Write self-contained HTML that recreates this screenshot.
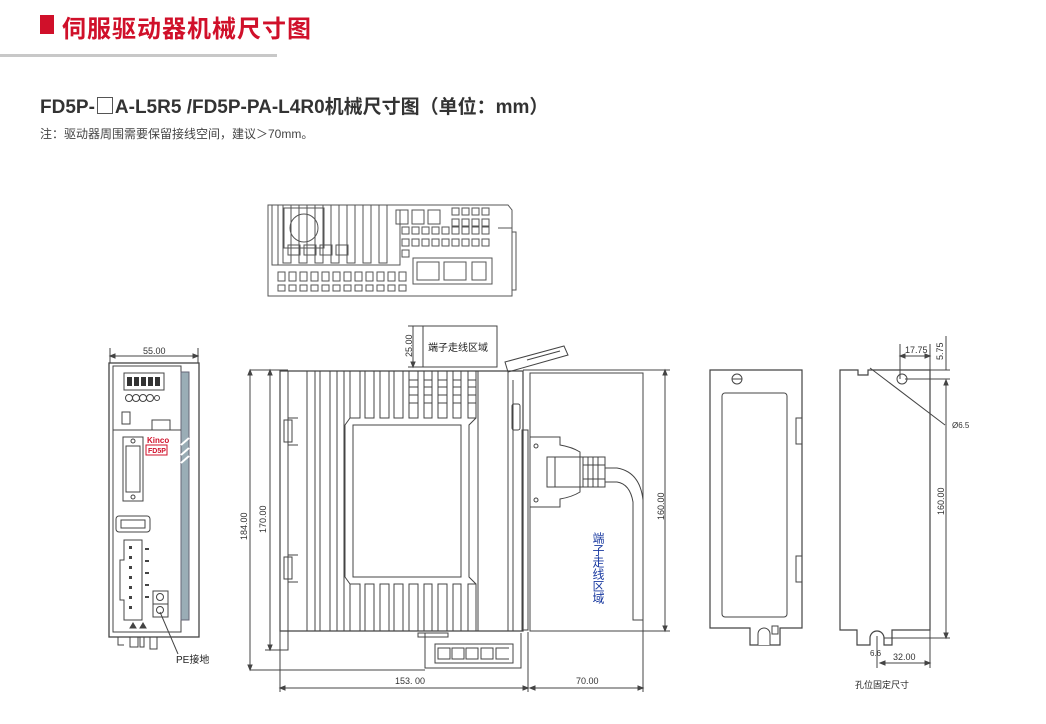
<!DOCTYPE html>
<html><head><meta charset="utf-8"><style>
html,body{margin:0;padding:0;background:#fff;}
body{width:1046px;height:724px;overflow:hidden;position:relative;font-family:"Liberation Sans","Noto Sans CJK SC",sans-serif;}
.t1{position:absolute;left:62px;top:9px;font-size:24px;font-weight:bold;color:#d0102a;letter-spacing:1px;}
.sq{position:absolute;left:40px;top:15px;width:14px;height:19px;background:#d0102a;}
.ln{position:absolute;left:0;top:54px;width:277px;height:3px;background:#c8c8c8;}
.t2{position:absolute;left:40px;top:92px;font-size:19px;color:#333;font-weight:bold;}
.t3{position:absolute;left:40px;top:125px;font-size:12px;color:#444;}
svg{position:absolute;left:0;top:0;}
</style></head><body>
<div class="sq"></div><div class="t1">伺服驱动器机械尺寸图</div><div class="ln"></div>
<div class="t2">FD5P-<span style="display:inline-block;width:14px;height:15px;border:1.5px solid #555;vertical-align:-1px;margin:0 2px"></span>A-L5R5 /FD5P-PA-L4R0机械尺寸图（单位：mm）</div>
<div class="t3">注：驱动器周围需要保留接线空间，建议＞70mm。</div>
<svg width="1046" height="724" viewBox="0 0 1046 724" fill="none" stroke="#444" stroke-width="1" font-family="Liberation Sans, Noto Sans CJK SC, sans-serif">
<!-- TOP VIEW -->
<g stroke="#555">
<path d="M268 205 H508 L512 210 V296 H268 Z"/>
<rect x="272" y="205" width="6" height="60"/>
<rect x="284" y="208" width="40" height="40"/><circle cx="304" cy="228" r="14"/>
<g>
<rect x="283" y="205" width="8" height="58"/><rect x="299" y="205" width="8" height="58"/><rect x="315" y="205" width="8" height="58"/><rect x="331" y="205" width="8" height="58"/><rect x="347" y="205" width="8" height="58"/><rect x="363" y="205" width="8" height="58"/><rect x="379" y="205" width="8" height="58"/>
<rect x="288" y="245" width="12" height="10"/><rect x="304" y="245" width="12" height="10"/><rect x="320" y="245" width="12" height="10"/><rect x="336" y="245" width="12" height="10"/>
</g>
<path d="M272 265 H400 V210"/>
<g>
<rect x="396" y="210" width="12" height="14"/><rect x="412" y="210" width="12" height="14"/><rect x="428" y="210" width="12" height="14"/>
</g>
<g fill="none">
<rect x="452" y="208" width="7" height="7"/><rect x="462" y="208" width="7" height="7"/><rect x="472" y="208" width="7" height="7"/><rect x="482" y="208" width="7" height="7"/>
<rect x="452" y="219" width="7" height="7"/><rect x="462" y="219" width="7" height="7"/><rect x="472" y="219" width="7" height="7"/><rect x="482" y="219" width="7" height="7"/>
<rect x="402" y="227" width="7" height="7"/><rect x="412" y="227" width="7" height="7"/><rect x="422" y="227" width="7" height="7"/><rect x="432" y="227" width="7" height="7"/><rect x="442" y="227" width="7" height="7"/><rect x="452" y="227" width="7" height="7"/><rect x="462" y="227" width="7" height="7"/><rect x="472" y="227" width="7" height="7"/><rect x="482" y="227" width="7" height="7"/>
<rect x="402" y="239" width="7" height="7"/><rect x="412" y="239" width="7" height="7"/><rect x="422" y="239" width="7" height="7"/><rect x="432" y="239" width="7" height="7"/><rect x="442" y="239" width="7" height="7"/><rect x="452" y="239" width="7" height="7"/><rect x="462" y="239" width="7" height="7"/><rect x="472" y="239" width="7" height="7"/><rect x="482" y="239" width="7" height="7"/>
<rect x="402" y="250" width="7" height="7"/>
</g>
<rect x="413" y="258" width="79" height="26"/>
<rect x="417" y="262" width="22" height="18"/><rect x="444" y="262" width="22" height="18"/><rect x="472" y="262" width="14" height="18"/>
<g><rect x="278" y="272" width="7" height="9"/><rect x="289" y="272" width="7" height="9"/><rect x="300" y="272" width="7" height="9"/><rect x="311" y="272" width="7" height="9"/><rect x="322" y="272" width="7" height="9"/><rect x="333" y="272" width="7" height="9"/><rect x="344" y="272" width="7" height="9"/><rect x="355" y="272" width="7" height="9"/><rect x="366" y="272" width="7" height="9"/><rect x="377" y="272" width="7" height="9"/><rect x="388" y="272" width="7" height="9"/><rect x="399" y="272" width="7" height="9"/>
<rect x="278" y="285" width="7" height="6"/><rect x="289" y="285" width="7" height="6"/><rect x="300" y="285" width="7" height="6"/><rect x="311" y="285" width="7" height="6"/><rect x="322" y="285" width="7" height="6"/><rect x="333" y="285" width="7" height="6"/><rect x="344" y="285" width="7" height="6"/><rect x="355" y="285" width="7" height="6"/><rect x="366" y="285" width="7" height="6"/><rect x="377" y="285" width="7" height="6"/><rect x="388" y="285" width="7" height="6"/><rect x="399" y="285" width="7" height="6"/></g>
<path d="M498 228 H512 V232 H516 V290 H512"/>
</g>

<!-- FRONT VIEW -->
<g>
<path d="M110 348 V363 M198 348 V363"/><path d="M110 356 H198" /><path d="M110 356 l5 -2 v4z M198 356 l-5 -2 v4z" fill="#444"/>
<text x="143" y="354" font-size="9" fill="#333" stroke="none">55.00</text>
<rect x="109" y="363" width="90" height="274" stroke-width="1.3"/>
<rect x="113" y="366" width="68" height="266"/>
<rect x="181" y="372" width="8" height="248" fill="#9aadb6" stroke="#667"/>
<path d="M181 445 L189 438 M181 455 L189 448 M181 463 L189 456"  stroke="#fff" stroke-width="2"/>
<rect x="124" y="373" width="40" height="17"/>
<g fill="#333" stroke="none"><rect x="127" y="377" width="5" height="9"/><rect x="134" y="377" width="5" height="9"/><rect x="141" y="377" width="5" height="9"/><rect x="148" y="377" width="5" height="9"/><rect x="155" y="377" width="5" height="9"/></g>
<circle cx="129" cy="398" r="3.5"/><circle cx="136" cy="398" r="3.5"/><circle cx="143" cy="398" r="3.5"/><circle cx="150" cy="398" r="3.5"/><circle cx="157" cy="398" r="2.5"/>
<rect x="122" y="412" width="8" height="12"/><rect x="152" y="420" width="18" height="10"/>
<path d="M113 430 H181"/>
<text x="147" y="443" font-size="8" font-weight="bold" fill="#d0102a" stroke="none">Kinco</text>
<rect x="146" y="445" width="21" height="10" stroke="#d0102a"/>
<text x="148" y="453" font-size="7" font-weight="bold" fill="#d0102a" stroke="none">FD5P</text>
<rect x="123" y="437" width="20" height="64"/><rect x="126" y="446" width="14" height="46"/><circle cx="133" cy="441" r="2"/><circle cx="133" cy="497" r="2"/>
<rect x="116" y="516" width="34" height="16" rx="3"/><rect x="121" y="520" width="24" height="8"/>
<path d="M124 540 h18 v80 h-18 v-20 h-4 v-40 h4z"/>
<g fill="#444" stroke="none"><rect x="129" y="546" width="3" height="3"/><rect x="129" y="556" width="3" height="3"/><rect x="129" y="566" width="3" height="3"/><rect x="129" y="576" width="3" height="3"/><rect x="129" y="586" width="3" height="3"/><rect x="129" y="596" width="3" height="3"/><rect x="129" y="606" width="3" height="3"/>
<rect x="145" y="548" width="4" height="2"/><rect x="145" y="560" width="4" height="2"/><rect x="145" y="572" width="4" height="2"/><rect x="145" y="584" width="4" height="2"/><rect x="145" y="596" width="4" height="2"/></g>
<rect x="153" y="591" width="15" height="13"/><rect x="153" y="604" width="15" height="13"/><circle cx="160" cy="597" r="3.5"/><circle cx="160" cy="610" r="3.5"/>
<path d="M130 628 l3 -5 l3 5z M140 628 l3 -5 l3 5z" fill="#444"/>
<path d="M118 637 v8 h6 M130 637 v10 h8 v-10 M140 637 v10 h4 v-10 M150 637 v12 h7 v-12"/>
<path d="M160 612 L178 654"/>
<text x="176" y="663" font-size="10" fill="#222" stroke="none">PE接地</text>
</g>

<!-- SIDE VIEW -->
<g>
<rect x="423" y="326" width="74" height="41"/>
<text x="428" y="351" font-size="10" fill="#222" stroke="none">端子走线区域</text>
<path d="M408 326 H423 M408 367 H423 M413 326 V367"/>
<path d="M413 367 l-2 -5 h4z" fill="#444"/>
<text transform="translate(412,357) rotate(-90)" font-size="9" fill="#333" stroke="none">25.00</text>
<path d="M250 370 H288 M250 670 H425 M250 370 V670"/>
<path d="M270 370 V650 M265 650 H285"/>
<path d="M250 370 l-2 5 h4z M250 670 l-2 -5 h4z M270 370 l-2 5 h4z M270 650 l-2 -5 h4z" fill="#444"/>
<text transform="translate(247,540) rotate(-90)" font-size="9" fill="#333" stroke="none">184.00</text>
<text transform="translate(266,533) rotate(-90)" font-size="9" fill="#333" stroke="none">170.00</text>
<path d="M280 371 H523 V631 H280 Z" stroke-width="1.2"/>
<rect x="280" y="371" width="8" height="279"/>
<rect x="284" y="420" width="8" height="22"/><rect x="284" y="557" width="8" height="22"/>
<path d="M288 418 h10 M288 445 h10 M288 555 h10 M288 582 h10"/>
<path d="M307 371 V631 M315 371 V631 M320 371 V631 M330 371 V631 M337 371 V631 M344 371 V631 M478 371 V631 M508 371 V631 M513 380 V631"/>
<g>
<path d="M350 371 V418 H360 V371 M365 371 V418 H374 V371 M380 371 V418 H389 V371 M394 371 V418 H403 V371 M409 371 V418 H418 V371 M424 371 V418 H432 V371 M438 371 V418 H447 V371 M453 371 V418 H461 V371 M468 371 V418 H476 V371"/>
<path d="M350 631 V584 H360 V631 M365 631 V584 H374 V631 M380 631 V584 H389 V631 M394 631 V584 H403 V631 M409 631 V584 H418 V631 M424 631 V584 H432 V631 M438 631 V584 H447 V631 M453 631 V584 H461 V631 M468 631 V584 H476 V631"/>
<path d="M409 380 h9 M409 387 h9 M409 395 h9 M409 403 h9 M424 380 h8 M424 387 h8 M424 395 h8 M424 403 h8 M438 380 h9 M438 387 h9 M438 395 h9 M438 403 h9 M453 380 h8 M453 387 h8 M453 395 h8 M453 403 h8 M468 380 h8 M468 387 h8 M468 395 h8 M468 403 h8"/>
</g>
<path d="M350 418 L345 425 V577 L350 584 M476 418 L469 425 V577 L476 584"/>
<rect x="353" y="425" width="108" height="152"/>
<rect x="512" y="404" width="8" height="26" rx="2"/>
<path d="M505 362 L564 346 L568 355 L508 372 Z M527 360 L560 351"/>
<rect x="522" y="430" width="6" height="200"/>
<path d="M425 633 V668 H521 V633"/>
<rect x="435" y="644" width="78" height="19"/>
<rect x="438" y="648" width="12" height="11"/><rect x="452" y="648" width="12" height="11"/><rect x="466" y="648" width="12" height="11"/><rect x="481" y="648" width="12" height="11"/><path d="M509 648 h-13 v11 h13"/>
<path d="M418 633 h30 v4 h-30z"/>
<!-- right zone -->
<rect x="530" y="373" width="113" height="258"/>
<path d="M523 370 H670 M643 631 H670 M665 370 V631"/>
<path d="M665 370 l-2 5 h4z M665 631 l-2 -5 h4z" fill="#444"/>
<text transform="translate(664,520) rotate(-90)" font-size="9" fill="#333" stroke="none">160.00</text>
<path d="M530 437 H560 V445 Q572 447 580 452 V492 Q572 497 560 499 V507 H530"/>
<circle cx="536" cy="446" r="2"/><circle cx="536" cy="500" r="2"/>
<rect x="547" y="457" width="36" height="30"/><path d="M555 457 V487"/>
<rect x="583" y="457" width="22" height="30"/><path d="M588 457 V487 M593 457 V487 M598 457 V487 M583 465 H605 M583 479 H605"/>
<path d="M605 468 H617 Q640 472 643 500 V620 H633 V502 Q630 484 617 482 H605"/>
<text x="598" y="532" font-size="12" fill="#1a3aa0" stroke="none" writing-mode="tb">端子走线区域</text>
<path d="M280 650 V692 M528 632 V692 M643 631 V692"/>
<path d="M280 688 H528 M530 688 H643"/>
<path d="M280 688 l5 -2 v4z M528 688 l-5 -2 v4z M530 688 l5 -2 v4z M643 688 l-5 -2 v4z" fill="#444"/>
<text x="395" y="684" font-size="9" fill="#333" stroke="none">153. 00</text>
<text x="576" y="684" font-size="9" fill="#333" stroke="none">70.00</text>
</g>

<!-- VIEW 3 -->
<g>
<path d="M710 370 H802 V628 H780 V645 H750 V628 H710 Z" stroke-width="1.2"/>
<rect x="796" y="418" width="6" height="26"/><rect x="796" y="556" width="6" height="26"/>
<rect x="722" y="393" width="65" height="224" rx="3"/>
<circle cx="737" cy="379" r="5"/><path d="M732 379 h10"/>
<path d="M758 645 V634 a6 6 0 0 1 12 0 V645" fill="#fff"/>
<rect x="772" y="626" width="6" height="8"/>
</g>

<!-- VIEW 4 -->
<g>
<path d="M840 370 H858 V375 H868 V370 H930 V630 H892 V645 H884 V638 a7 7 0 0 0 -14 0 V645 H857 V630 H840 Z" stroke-width="1.2"/>
<path d="M877 636 V652"/>
<circle cx="902" cy="379" r="5"/>
<path d="M870 368 L945 425"/><text x="952" y="428" font-size="8" fill="#333" stroke="none">Ø6.5</text>
<path d="M900 344 V379 M930 344 V370 M900 356 H930"/><path d="M900 356 l5 -2 v4z M930 356 l-5 -2 v4z" fill="#444"/>
<text x="905" y="353" font-size="9" fill="#333" stroke="none">17.75</text>
<path d="M930 370 H950 M905 379 H950 M946 336 V370"/>
<text transform="translate(943,360) rotate(-90)" font-size="9" fill="#333" stroke="none">5.75</text>
<path d="M946 380 V638 M884 638 H950"/><path d="M946 380 l-2 5 h4z M946 638 l-2 -5 h4z" fill="#444"/>
<text transform="translate(944,515) rotate(-90)" font-size="9" fill="#333" stroke="none">160.00</text>
<path d="M930 630 V668 M877 652 V668 M880 663 H930"/><path d="M880 663 l5 -2 v4z M930 663 l-5 -2 v4z" fill="#444"/>
<text x="893" y="660" font-size="9" fill="#333" stroke="none">32.00</text>
<text x="870" y="656" font-size="8" fill="#333" stroke="none">6.6</text>
<text x="855" y="688" font-size="9" fill="#222" stroke="none">孔位固定尺寸</text>
</g>
</svg>
</body></html>
